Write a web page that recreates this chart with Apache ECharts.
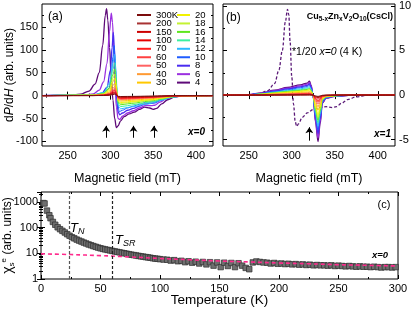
<!DOCTYPE html>
<html>
<head>
<meta charset="utf-8">
<script src="https://cdn.jsdelivr.net/npm/echarts@6/dist/echarts.min.js"></script>
<style>
html, body { margin: 0; padding: 0; background: #fff; }
#chart { width: 415px; height: 313px; }
</style>
</head>
<body>
<div id="chart"></div>
<script>
const FONT = '"Liberation Sans", Arial, sans-serif';

// temperatures in legend order, and their colours
const temps = ['300K', '200', '150', '100', '70', '60', '50', '40', '30', '20', '18', '16', '14', '12', '10', '8', '6', '4'];
const tempColors = ['#7b0c0c', '#a83232', '#cc0000', '#e60000', '#ff1f1f', '#ff4040', '#ff6262', '#ff9a33', '#ffc800', '#f2f200',
  '#c4f232', '#5ee61e', '#3cf0a0', '#2cb8ff', '#1f5cff', '#4a2cf0', '#9b30e0', '#5e0a78'];

// (a) x=0 spectra, field in mT
const fieldsA = [220, 280, 292, 299, 303, 305, 306.5, 308, 309.5, 312, 320, 330, 340, 350, 360, 370, 385, 420];
const a300 = [0, 0.1, 0.2, 0.9, 2.4, 3, 1.8, 0, -1.6, -2, -1.8, -1.6, -1.3, -1.1, -0.7, -0.3, 0, 0];
const a200 = [0, 0.1, 0.4, 1.4, 3.6, 4.5, 2.7, 0, -2.2, -2.8, -2.5, -2.2, -1.8, -1.5, -1, -0.4, -0.1, 0];
const a150 = [0, 0.1, 0.5, 1.8, 4.8, 6, 3.6, 0, -2.8, -3.5, -3.2, -2.8, -2.3, -1.9, -1.2, -0.5, -0.1, 0];
const a100 = [0, 0.2, 0.6, 2.4, 6.4, 8, 4.8, 0, -3.6, -4.5, -4, -3.6, -2.9, -2.5, -1.6, -0.7, -0.1, 0];
const a70 = [0, 0.2, 0.9, 3.3, 8.8, 11, 6.6, 0, -4.8, -6, -5.4, -4.8, -3.9, -3.3, -2.1, -0.9, -0.2, 0];
const a60 = [0, 0.3, 1, 3.9, 10.4, 13, 7.8, 0, -5.6, -7, -6.3, -5.6, -4.6, -3.9, -2.5, -1, -0.2, 0];
const a50 = [0, 0.3, 1.3, 4.8, 13, 16, 9.6, 0, -6.4, -8, -7.2, -6.4, -5.2, -4.4, -2.8, -1.2, -0.2, 0];
const a40 = [0, 0.4, 1.6, 6, 16, 20, 12, 0, -7.6, -9.5, -8.6, -7.6, -6.2, -5.2, -3.3, -1.4, -0.3, 0];
const a30 = [0, 0.5, 2.2, 8, 22, 27, 16, 0, -9.6, -12, -10.8, -9.6, -7.8, -6.6, -4.2, -1.8, -0.4, 0];
const a20 = [0, 0.8, 3, 11, 30, 38, 23, 0, -12, -15, -13.5, -12, -9.8, -8.3, -5.3, -2.3, -0.5, 0];
const a18 = [0, 0.9, 3.8, 14, 38, 47, 28, 0, -13.6, -17, -15.3, -13.6, -11, -9.4, -6, -2.6, -0.5, 0];
const a16 = [0, 1.2, 4.6, 17, 46, 58, 35, 0, -16, -20, -18, -16, -13, -11, -7, -3, -0.6, 0];
const a14 = [0, 1.4, 5.8, 22, 58, 72, 43, 0, -19, -24, -22, -19, -16, -13, -8.4, -3.6, -0.7, 0];
const a12 = [0, 1.8, 7, 27, 72, 90, 54, 0, -23, -29, -26, -23, -19, -16, -10, -4.4, -0.9, 0];
const a10 = [[220, 0], [280, 1], [292, 5], [298, 14], [301, 40], [303, 85], [304.3, 110], [305.5, 80], [307, 20], [308.5, -20],
  [310.5, -35], [314, -32], [320, -27], [327, -23], [334, -19], [341, -15], [348, -14], [353, -13], [360, -8], [368, -4], [380, -1], [420, 0]];
const a8 = [[220, 0], [280, 1], [290, 5], [296, 18], [300, 55], [302, 105], [303.3, 138], [304.5, 110], [306, 40], [307.5, -10],
  [309, -35], [311, -42], [314, -38], [320, -32], [327, -28], [334, -23], [341, -18], [348, -17], [352, -16], [358, -11], [366, -5], [378, -1], [420, 0]];
const a6 = [[220, 0], [270, 1], [280, 4], [287, 12], [292, 30], [296, 70], [299, 140], [301, 180], [302.5, 160], [304, 90], [305.5, 20],
  [307, -25], [309, -50], [311, -52], [314, -45], [320, -38], [327, -33], [334, -27], [341, -22], [348, -22], [352, -21], [358, -14],
  [366, -6], [376, -2], [390, 0], [420, 0]];
const a4 = [[220, 0], [250, 0.5], [265, 3], [275, 10], [282, 25], [287, 50], [291, 110], [294, 175], [295.5, 190], [297, 165], [299, 105],
  [301, 40], [303, -10], [305, -50], [307, -70], [309, -66], [312, -55], [316, -46], [322, -40], [328, -36], [334, -30], [340, -25],
  [346, -27], [350, -30], [354, -28], [360, -18], [367, -9], [375, -3], [385, -0.5], [420, 0]];
const curvesA = [a300, a200, a150, a100, a70, a60, a50, a40, a30, a20, a18, a16, a14, a12, a10, a8, a6, a4];
const arrowFieldsA = [295, 327, 351];
const arrowSpanA = [-92, -66];

// (b) x=1 spectra
const fieldsB = [220, 250, 265, 280, 295, 310, 318, 320.5, 322.5, 325, 327.5, 330.5, 333, 335.5, 340, 350, 370, 420];
const b300 = [0, 0, 0, 0.01, 0.01, 0.02, 0.02, 0.02, 0.01, -0.01, -0.09, -0.15, -0.09, -0.03, -0.01, 0, 0, 0];
const b200 = [0, 0, 0, 0.01, 0.02, 0.02, 0.03, 0.03, 0.02, -0.01, -0.13, -0.22, -0.14, -0.04, -0.02, 0, 0, 0];
const b150 = [0, 0, 0.01, 0.02, 0.03, 0.04, 0.04, 0.05, 0.04, -0.02, -0.17, -0.3, -0.18, -0.05, -0.02, -0.01, 0, 0];
const b100 = [0, 0, 0.01, 0.03, 0.04, 0.06, 0.07, 0.08, 0.06, -0.03, -0.26, -0.45, -0.28, -0.08, -0.03, -0.01, 0, 0];
const b70 = [0, 0, 0.02, 0.05, 0.07, 0.1, 0.11, 0.13, 0.09, -0.04, -0.38, -0.65, -0.4, -0.12, -0.05, -0.02, 0, 0];
const b60 = [0, 0, 0.03, 0.06, 0.09, 0.13, 0.15, 0.17, 0.12, -0.05, -0.46, -0.8, -0.5, -0.14, -0.06, -0.02, 0, 0];
const b50 = [0, 0, 0.04, 0.08, 0.12, 0.16, 0.19, 0.22, 0.16, -0.06, -0.58, -1.0, -0.62, -0.18, -0.07, -0.03, 0, 0];
const b40 = [0, 0.01, 0.05, 0.1, 0.16, 0.22, 0.26, 0.3, 0.21, -0.08, -0.75, -1.3, -0.8, -0.23, -0.09, -0.04, 0, 0];
const b30 = [0, 0.01, 0.06, 0.14, 0.22, 0.3, 0.35, 0.4, 0.28, -0.1, -0.98, -1.7, -1.05, -0.3, -0.12, -0.05, 0, 0];
const b20 = [0, 0.02, 0.09, 0.2, 0.3, 0.41, 0.48, 0.55, 0.39, -0.13, -1.27, -2.2, -1.35, -0.38, -0.15, -0.06, 0, 0];
const b18 = [0, 0.02, 0.1, 0.22, 0.34, 0.46, 0.54, 0.62, 0.44, -0.14, -1.45, -2.5, -1.54, -0.43, -0.17, -0.07, 0, 0];
const b16 = [0, 0.02, 0.12, 0.26, 0.4, 0.53, 0.63, 0.72, 0.51, -0.16, -1.6, -2.8, -1.72, -0.48, -0.19, -0.08, 0, 0];
const b14 = [0, 0.03, 0.13, 0.29, 0.45, 0.61, 0.71, 0.82, 0.58, -0.18, -1.8, -3.1, -1.9, -0.54, -0.21, -0.09, 0, 0];
const b12 = [0, 0.03, 0.15, 0.34, 0.52, 0.7, 0.83, 0.95, 0.67, -0.2, -2.0, -3.5, -2.15, -0.6, -0.24, -0.1, 0, 0];
const b10 = [0, 0.04, 0.18, 0.39, 0.6, 0.82, 0.96, 1.1, 0.78, -0.22, -2.25, -3.9, -2.4, -0.68, -0.26, -0.11, 0, 0];
const b8 = [0, 0.04, 0.2, 0.44, 0.69, 0.93, 1.09, 1.25, 0.89, -0.25, -2.5, -4.3, -2.65, -0.75, -0.29, -0.12, 0, 0];
const b6 = [0, 0.05, 0.22, 0.5, 0.77, 1.04, 1.22, 1.4, 1.0, -0.28, -2.8, -4.8, -2.95, -0.83, -0.32, -0.14, 0, 0];
const b4 = [0, 0.05, 0.25, 0.55, 0.85, 1.15, 1.35, 1.55, 1.1, -0.3, -3.0, -5.2, -3.2, -0.9, -0.35, -0.15, 0, 0];
const curvesB = [b300, b200, b150, b100, b70, b60, b50, b40, b30, b20, b18, b16, b14, b12, b10, b8, b6, b4];
// x=0, 4 K spectrum divided by 20 (dashed)
const bDash = [[220, 0], [250, 0.05], [262, 0.15], [272, 0.5], [280, 1.3], [285, 2.8], [289, 5.0], [292.5, 8.2], [295, 9.6], [296.5, 9.0],
  [298, 6.0], [300, 2.0], [302, -1.0], [304, -3.0], [305.7, -3.5], [308, -3.2], [312, -2.5], [318, -2.0], [325, -1.6], [332, -1.4],
  [340, -1.3], [347, -1.4], [352, -1.3], [358, -0.9], [365, -0.5], [375, -0.2], [390, 0], [420, 0]];
const arrowFieldsB = [320.4];
const arrowSpanB = [-5.1, -3.6];

// (c) susceptibility vs temperature
const chiPoints = [[2, 890], [3, 860], [5, 455], [7, 300], [8, 230], [10, 165], [12, 128], [14, 102], [16, 86], [18, 74], [20, 64],
  [22, 55], [24, 48], [26, 42], [28, 38], [30, 34], [32, 31], [34, 28.5], [36, 26], [38, 24], [40, 22], [42, 20.5], [44, 19],
  [46, 17.8], [48, 16.6], [50, 15.6], [52, 14.8], [54, 14.1], [56, 13.5], [58, 12.9], [60, 12.3], [62, 11.8], [64, 11.3], [66, 10.9],
  [68, 10.4], [70, 10], [72, 9.6], [74, 9.2], [76, 8.8], [78, 8.5], [80, 8.2], [82, 7.9], [84, 7.6], [86, 7.4], [88, 7.1], [90, 6.9],
  [92, 6.7], [94, 6.4], [96, 6.2], [98, 6.1], [100, 5.9], [103, 5.7], [106, 5.6], [109, 5.2], [112, 5.4], [115, 4.9], [118, 5.1],
  [121, 4.5], [124, 4.9], [127, 4.3], [130, 4.7], [133, 4.0], [136, 4.6], [139, 3.7], [142, 4.5], [145, 3.3], [148, 4.4], [151, 2.9],
  [154, 4.3], [157, 3.2], [160, 4.2], [163, 2.9], [166, 4.1], [169, 3.3], [172, 2.7], [175, 2.4], [178, 4.4], [181, 4.8], [184, 4.6],
  [187, 4.4], [190, 4.3], [193, 4.0], [196, 4.2], [199, 3.9], [202, 4.0], [205, 3.8], [208, 3.9], [211, 3.7], [214, 3.8], [217, 3.6],
  [220, 3.7], [223, 3.5], [226, 3.6], [229, 3.4], [232, 3.5], [235, 3.4], [238, 3.4], [241, 3.3], [244, 3.4], [247, 3.2], [250, 3.3],
  [253, 3.2], [256, 3.1], [259, 3.2], [262, 3.1], [265, 3.0], [268, 3.1], [271, 3.0], [274, 3.0], [277, 2.9], [280, 3.0], [283, 2.9],
  [286, 2.8], [289, 2.9], [292, 2.9], [295, 2.8], [298, 2.9]];
const chiFit = [[0, 9.5], [25, 8.9], [50, 8.1], [75, 7.2], [100, 6.3], [125, 5.6], [150, 5.0], [175, 4.6], [200, 4.2], [225, 3.9],
  [250, 3.6], [275, 3.4], [300, 3.2]];
const tN = 23.5;
const tSR = 60;

// tick positions
const fieldMajor = [250, 300, 350, 400];
const fieldMinor = [225, 275, 325, 375];
const aMajor = [-100, -50, 0, 50, 100, 150];
const aMinor = [-75, -25, 25, 75, 125, 175];
const bMajor = [-5, 0, 5, 10];
const bMinor = [-2.5, 2.5, 7.5];
const tMajor = [0, 50, 100, 150, 200, 250, 300];
const tMinor = [25, 75, 125, 175, 225, 275];
const chiMinor = [2, 3, 4, 5, 6, 7, 8, 9, 20, 30, 40, 50, 60, 70, 80, 90, 200, 300, 400, 500, 600, 700, 800, 900, 2000];
const CHI_MAX = 2400;

const chart = echarts.init(document.getElementById('chart'), null, { renderer: 'canvas' });

function axis(grid, pos, min, max, ticks, len, showLabel, extra) {
  return Object.assign({
    type: 'value', gridIndex: grid, position: pos, min: min, max: max,
    axisLine: { show: false },
    splitLine: { show: false },
    axisTick: { show: true, inside: true, length: len, customValues: ticks, lineStyle: { color: '#000', width: 1 } },
    axisLabel: showLabel
      ? { show: true, customValues: ticks, color: '#000', fontSize: 11, fontFamily: FONT, margin: 4 }
      : { show: false },
    nameMoveOverlap: false
  }, extra || {});
}

function logAxis(pos, showLabel, extra) {
  return Object.assign({
    type: 'log', logBase: 10, gridIndex: 2, position: pos, min: 1, max: CHI_MAX,
    axisLine: { show: false },
    splitLine: { show: false },
    minorTick: { show: false },
    axisTick: { show: true, inside: true, length: 4, lineStyle: { color: '#000', width: 1 } },
    axisLabel: showLabel
      ? { show: true, color: '#000', fontSize: 11, fontFamily: FONT, margin: 3, showMaxLabel: false,
          formatter: v => String(Math.round(v)) }
      : { show: false },
    nameMoveOverlap: false
  }, extra || {});
}

const fieldName = {
  name: 'Magnetic field (mT)', nameLocation: 'middle', nameGap: 26,
  nameTextStyle: { fontSize: 12.5, fontFamily: FONT, color: '#000' }
};

const xAxes = [
  axis(0, 'bottom', 220, 420, fieldMajor, 4, true, fieldName),
  axis(0, 'bottom', 220, 420, fieldMinor, 2, false),
  axis(0, 'top', 220, 420, fieldMajor, 4, false),
  axis(0, 'top', 220, 420, fieldMinor, 2, false),
  axis(1, 'bottom', 220, 420, fieldMajor, 4, true, fieldName),
  axis(1, 'bottom', 220, 420, fieldMinor, 2, false),
  axis(1, 'top', 220, 420, fieldMajor, 4, false),
  axis(1, 'top', 220, 420, fieldMinor, 2, false),
  axis(2, 'bottom', 0, 300, tMajor, 4, true, {
    name: 'Temperature (K)', nameLocation: 'middle', nameGap: 14,
    nameTextStyle: { fontSize: 13.5, fontFamily: FONT, color: '#000' }
  }),
  axis(2, 'bottom', 0, 300, tMinor, 2, false),
  axis(2, 'top', 0, 300, tMajor, 4, false),
  axis(2, 'top', 0, 300, tMinor, 2, false)
];

const yAxes = [
  axis(0, 'left', -110, 200, aMajor, 4, true, {
    name: 'd{i|P}/d{i|H} (arb. units)', nameLocation: 'middle', nameGap: 26,
    nameTextStyle: { fontSize: 12, fontFamily: FONT, color: '#000',
      rich: { i: { fontSize: 12, fontFamily: FONT, fontStyle: 'italic', color: '#000' } } }
  }),
  axis(0, 'left', -110, 200, aMinor, 2, false),
  axis(0, 'right', -110, 200, aMajor, 4, false),
  axis(0, 'right', -110, 200, aMinor, 2, false),
  axis(1, 'left', -5.7, 10.2, bMajor, 4, false),
  axis(1, 'left', -5.7, 10.2, bMinor, 2, false),
  axis(1, 'right', -5.7, 10.2, bMajor, 4, true),
  axis(1, 'right', -5.7, 10.2, bMinor, 2, false),
  logAxis('left', true, {
    name: '{c|χ}{s|s}{e|e} (arb. units)', nameLocation: 'middle', nameGap: 25,
    nameTextStyle: { fontSize: 12, fontFamily: FONT, color: '#000', lineHeight: 16,
      rich: {
        c: { fontSize: 14, fontFamily: FONT, color: '#000', lineHeight: 16 },
        s: { fontSize: 8, fontFamily: FONT, color: '#000', verticalAlign: 'bottom' },
        e: { fontSize: 8, fontFamily: FONT, color: '#000', verticalAlign: 'top' }
      } }
  }),
  axis(2, 'left', 0, Math.log10(CHI_MAX), chiMinor.map(Math.log10), 2, false),
  logAxis('right', false),
  axis(2, 'right', 0, Math.log10(CHI_MAX), chiMinor.map(Math.log10), 2, false)
];

function toPairs(vals, fields) {
  return Array.isArray(vals[0]) ? vals : vals.map((v, i) => [fields[i], v]);
}

const series = [];
// low temperatures first so the high-temperature curves sit on top
for (let i = temps.length - 1; i >= 0; i--) {
  series.push({
    name: temps[i], type: 'line', xAxisIndex: 0, yAxisIndex: 0,
    data: toPairs(curvesA[i], fieldsA), smooth: 0.35, smoothMonotone: 'x',
    showSymbol: false, symbol: 'none', color: tempColors[i],
    lineStyle: { color: tempColors[i], width: i >= 15 ? 1.3 : 1 },
    animation: false
  });
}
series.push({
  name: 'x0-4K', type: 'line', xAxisIndex: 4, yAxisIndex: 4, data: bDash,
  smooth: 0.35, smoothMonotone: 'x', showSymbol: false, symbol: 'none',
  lineStyle: { color: '#5b1a78', width: 1.3, type: [3, 2] }, animation: false
});
for (let i = temps.length - 1; i >= 0; i--) {
  series.push({
    name: temps[i], type: 'line', xAxisIndex: 4, yAxisIndex: 4,
    data: toPairs(curvesB[i], fieldsB), smooth: 0.35, smoothMonotone: 'x',
    showSymbol: false, symbol: 'none', color: tempColors[i],
    lineStyle: { color: tempColors[i], width: i >= 15 ? 1.3 : 1 },
    animation: false
  });
}
series.push({
  type: 'lines', coordinateSystem: 'cartesian2d', xAxisIndex: 0, yAxisIndex: 0,
  symbol: ['none', 'arrow'], symbolSize: 6, silent: true, animation: false,
  lineStyle: { color: '#000', width: 1, opacity: 1, curveness: 0 },
  data: arrowFieldsA.map(f => ({ coords: [[f, arrowSpanA[0]], [f, arrowSpanA[1]]] }))
});
series.push({
  type: 'lines', coordinateSystem: 'cartesian2d', xAxisIndex: 4, yAxisIndex: 4,
  symbol: ['none', 'arrow'], symbolSize: 6, silent: true, animation: false,
  lineStyle: { color: '#000', width: 1, opacity: 1, curveness: 0 },
  data: arrowFieldsB.map(f => ({ coords: [[f, arrowSpanB[0]], [f, arrowSpanB[1]]] }))
});
series.push({
  name: 'chi', type: 'scatter', xAxisIndex: 8, yAxisIndex: 8, data: chiPoints,
  symbol: 'rect', symbolSize: 5.5, animation: false,
  itemStyle: { color: '#6f6f6f', borderColor: '#2e2e2e', borderWidth: 0.7, opacity: 1 },
  markLine: {
    silent: true, symbol: ['none', 'none'], animation: false, label: { show: false },
    lineStyle: { type: [3, 2], width: 1.2 },
    data: [
      { xAxis: tN, lineStyle: { color: '#555', type: [3, 2], width: 1.2 } },
      { xAxis: tSR, lineStyle: { color: '#222', type: [3, 2], width: 1.2 } }
    ]
  }
});
series.push({
  name: 'fit', type: 'line', xAxisIndex: 8, yAxisIndex: 8, data: chiFit,
  smooth: 0.4, showSymbol: false, symbol: 'none', animation: false,
  lineStyle: { color: '#ff2a8c', width: 1.6, type: [4, 3] }
});

// rows of the legend are packed 8.5 px apart, as in the reference
const legendBase = {
  orient: 'vertical', top: 10, padding: 0, itemGap: -1.55, itemHeight: 2, icon: 'rect',
  selectedMode: false, z: 10,
  textStyle: { fontSize: 9.5, fontFamily: FONT, color: '#000' }
};

const sub = { fontSize: 6.5, fontFamily: FONT, fontWeight: 'bold', fill: '#000', verticalAlign: 'bottom' };
const main = { fontSize: 9, fontFamily: FONT, fontWeight: 'bold', fill: '#000', lineHeight: 12 };

const option = {
  backgroundColor: '#fff',
  animation: false,
  grid: [
    { left: 42, top: 4, width: 171, height: 142, show: true, borderColor: '#000', borderWidth: 1, backgroundColor: 'transparent', outerBoundsMode: 'none' },
    { left: 223, top: 4, width: 172, height: 142, show: true, borderColor: '#000', borderWidth: 1, backgroundColor: 'transparent', outerBoundsMode: 'none' },
    { left: 41, top: 192, width: 357, height: 87, show: true, borderColor: '#000', borderWidth: 1, backgroundColor: 'transparent', outerBoundsMode: 'none' }
  ],
  xAxis: xAxes,
  yAxis: yAxes,
  legend: [
    Object.assign({ data: temps.slice(0, 9), left: 137, itemWidth: 14 }, legendBase),
    Object.assign({ data: temps.slice(9), left: 177, itemWidth: 13 }, legendBase)
  ],
  graphic: { elements: [
    { type: 'text', x: 48, y: 17, style: { text: '(a)', fontSize: 12, fontFamily: FONT, fill: '#000', verticalAlign: 'middle' } },
    { type: 'text', x: 226, y: 18, style: { text: '(b)', fontSize: 12, fontFamily: FONT, fill: '#000', verticalAlign: 'middle' } },
    { type: 'text', x: 384, y: 205, style: { text: '(c)', fontSize: 11, fontFamily: FONT, fill: '#000', align: 'center', verticalAlign: 'middle' } },
    { type: 'text', x: 205, y: 132, style: { text: 'x=0', fontSize: 10, fontFamily: FONT, fontWeight: 'bold', fontStyle: 'italic', fill: '#000', align: 'right', verticalAlign: 'middle' } },
    { type: 'text', x: 391, y: 134, style: { text: 'x=1', fontSize: 10, fontFamily: FONT, fontWeight: 'bold', fontStyle: 'italic', fill: '#000', align: 'right', verticalAlign: 'middle' } },
    { type: 'text', x: 388, y: 255, style: { text: 'x=0', fontSize: 9.5, fontFamily: FONT, fontWeight: 'bold', fontStyle: 'italic', fill: '#000', align: 'right', verticalAlign: 'middle' } },
    { type: 'text', x: 393, y: 17, style: {
      text: '{m|Cu}{s|5-x}{m|Zn}{s|x}{m|V}{s|2}{m|O}{s|10}{m|(CsCl)}', align: 'right', verticalAlign: 'middle',
      rich: { m: main, s: sub } } },
    { type: 'text', x: 292, y: 52, style: {
      text: '{n|*1/20 }{i|x=0}{n| (4 K)}', verticalAlign: 'middle',
      rich: { n: { fontSize: 10.5, fontFamily: FONT, fill: '#000' }, i: { fontSize: 10.5, fontFamily: FONT, fontStyle: 'italic', fill: '#000' } } } },
    { type: 'text', x: 70, y: 228, style: {
      text: '{t|T}{s|N}', verticalAlign: 'middle',
      rich: { t: { fontSize: 13, fontFamily: FONT, fontStyle: 'italic', fill: '#000', lineHeight: 16 },
        s: { fontSize: 9, fontFamily: FONT, fontStyle: 'italic', fill: '#000', verticalAlign: 'bottom' } } } },
    { type: 'text', x: 115, y: 240, style: {
      text: '{t|T}{s|SR}', verticalAlign: 'middle',
      rich: { t: { fontSize: 13, fontFamily: FONT, fontStyle: 'italic', fill: '#000', lineHeight: 16 },
        s: { fontSize: 9, fontFamily: FONT, fontStyle: 'italic', fill: '#000', verticalAlign: 'bottom' } } } }
  ] },
  series: series
};

chart.setOption(option);
</script>
</body>
</html>
